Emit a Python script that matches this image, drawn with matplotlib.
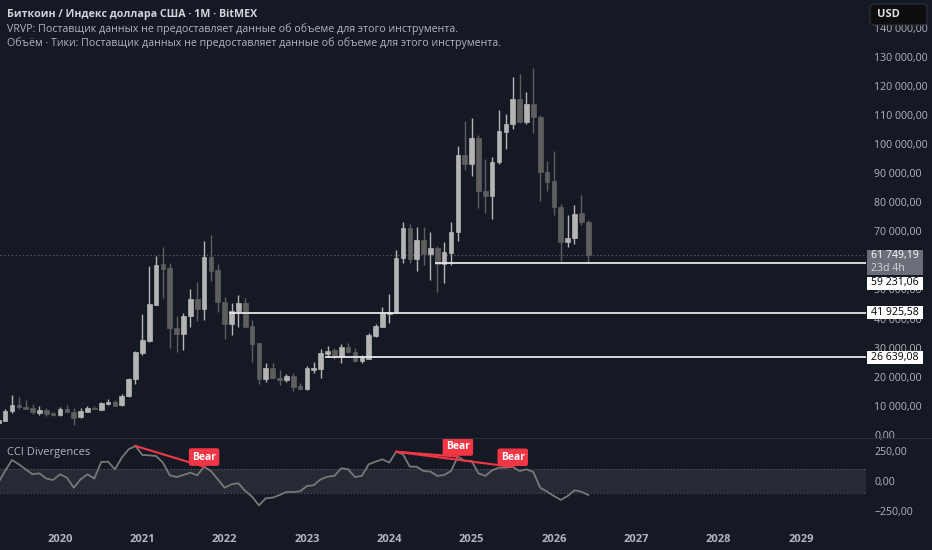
import matplotlib

matplotlib.use("Agg")

import matplotlib.pyplot as plt
import numpy as np
from matplotlib.patches import FancyBboxPatch, Rectangle

# month index: 0 = Jan 2020
months = np.arange(-9, 78)

opens = [4100, 4950, 8250, 10300, 9720, 9170, 7450, 8590, 7450, 6770,
         8830, 8020, 6080, 8020, 9170, 8700, 10540, 11230, 10300, 13400,
         19240, 28280, 32400, 44770, 58760, 57380, 36870, 34600, 41000, 46730,
         43290, 61160, 56700, 45800, 38140, 42710, 45240, 37450, 31500, 19240,
         22910, 19700, 18900, 20270, 16840, 15910, 22330, 22680, 27830, 29200,
         26900, 30130, 28620, 25430, 26220, 34020, 37210, 41580, 42020, 60710,
         71020, 60360, 67000, 62090, 64360, 58650, 62640, 69650, 96210, 93000,
         102150, 83840, 82230, 93700, 104210, 106760, 115450, 107650, 113730, 109150,
         90200, 87270, 78440, 66420, 67800, 76180, 73290]
highs = [5600, 8830, 13740, 12950, 12000, 10650, 9960, 9170, 7800, 9600,
         10300, 9170, 9200, 10000, 10100, 11300, 12370, 12000, 14000, 19600,
         29000, 41580, 58070, 61500, 64500, 59200, 41000, 41800, 50170, 52570,
         66660, 68720, 58760, 47520, 45470, 48100, 46970, 39510, 31700, 24630,
         24860, 22330, 21000, 21300, 17980, 23810, 24980, 29550, 30680, 29900,
         31270, 31500, 29800, 27500, 35000, 38000, 44000, 48450, 63570, 73290,
         72500, 71500, 71500, 69650, 65000, 66200, 73290, 99300, 108000, 108800,
         103000, 94730, 95400, 111670, 110300, 122900, 124040, 118000, 126000, 110000,
         94250, 97680, 79500, 75590, 79030, 82460, 74000]
lows = [4050, 4850, 7450, 8830, 8800, 7100, 6870, 6640, 6400, 6500,
        8200, 3440, 5900, 7800, 8800, 8600, 10200, 9900, 10000, 13000,
        17520, 27490, 32060, 44500, 46970, 29790, 28620, 29200, 37210, 39270,
        39600, 53020, 42370, 32880, 34250, 37000, 37700, 25190, 17400, 18320,
        19500, 17180, 18200, 15120, 15700, 15500, 21200, 19480, 26900, 26010,
        24630, 28300, 25000, 24900, 26000, 33800, 37000, 38380, 41800, 59000,
        59000, 56450, 58410, 53260, 49240, 52330, 58500, 66500, 91050, 89100,
        77900, 76380, 74110, 93000, 98170, 105000, 107300, 107000, 103660, 80400,
        83940, 75590, 59780, 64700, 65520, 72000, 59000]
closes = [5250, 8250, 10300, 9700, 8930, 7800, 8590, 7100, 6770, 8930,
          8020, 5730, 8250, 9170, 8830, 10890, 11340, 10080, 13500, 19350,
          28520, 32640, 45010, 58520, 57150, 36660, 34600, 41000, 46730, 43290,
          61160, 56450, 45800, 38140, 42710, 45240, 37210, 31270, 19240, 22910,
          19700, 18900, 20370, 16600, 15910, 22910, 23120, 28070, 28860, 26900,
          30340, 28620, 25530, 26690, 34360, 37450, 41810, 42160, 60700, 71020,
          60360, 67000, 62090, 64360, 58650, 62980, 69850, 96210, 93000, 102150,
          83840, 82230, 93920, 104290, 106720, 115450, 107650, 113730, 109150, 90200,
          87000, 78210, 66420, 67800, 75830, 73090, 61749.19]

cci = [-15, 85, 175, 139, 97, 56, 64, 20, 8, 56,
       28, -56, 14, 56, 20, 158, 161, 97, 194, 264,
       292, 217, 214, 208, 153, 47, 33, 50, 69, 47,
       119, 83, 14, -56, -28, -19, -83, -131, -203, -144,
       -139, -117, -92, -92, -86, -42, -35, 14, 36, 42,
       106, 97, 33, 42, 139, 161, 181, 153, 244, 222,
       119, 119, 83, 78, 42, 50, 83, 203, 167, 167,
       64, 42, 89, 111, 111, 117, 83, 97, 75, -56,
       -89, -125, -158, -125, -78, -89, -117]

# bearish divergences: (start month, end month)
divergences = [(11, 21), (49, 58), (49, 66)]

levels = [59231.06, 41925.58, 26639.08]
level_start = [55, 25, 39]

year_ticks = np.arange(0, 109, 12)
year_labels = ["2020", "2021", "2022", "2023", "2024", "2025", "2026", "2027", "2028", "2029"]
# 60 000 sits under the last-price tag, so it is not listed
price_ticks = [0, 10000, 20000, 30000, 40000, 50000, 70000, 80000, 90000,
               100000, 110000, 120000, 130000, 140000]
cci_ticks = [-250, 0, 250]

BG = "#151924"
TXT = "#b2b5be"
BULL = "#b4b4b4"
BEAR = "#5e5e5e"
RED = "#f23645"

plt.rcParams["font.family"] = ["Open Sans", "DejaVu Sans"]

W, H = 932, 550
fig = plt.figure(figsize=(W / 100, H / 100), dpi=100, facecolor=BG)


def fig_rect(x, y_top, w, h):
    return [x / W, 1 - (y_top + h) / H, w / W, h / H]


def ru_num(v):
    s = f"{v:,.2f}"
    return s.replace(",", " ").replace(".", ",")


ax = fig.add_axes(fig_rect(0, 0, 866, 438), facecolor=BG)
cax = fig.add_axes(fig_rect(0, 439, 866, 83), facecolor=BG)

xlim = (-8.75, 117.5)

# candles
opens_a = np.array(opens, float)
closes_a = np.array(closes, float)
up = closes_a >= opens_a
cols = np.where(up, BULL, BEAR)
ax.vlines(months, lows, highs, colors=cols, lw=1.0, zorder=2)
body_lo = np.minimum(opens_a, closes_a)
body_h = np.maximum(np.abs(closes_a - opens_a), 300)
ax.bar(months, body_h, bottom=body_lo, width=0.68, color=cols, edgecolor=cols, lw=0.5, zorder=3)

ax.axhline(closes[-1], color="#5d606b", lw=0.9, ls=(0, (1, 2)), zorder=1)
for lev, start in zip(levels, level_start):
    ax.hlines(lev, start - 0.4, xlim[1], color="#e6e6e6", lw=1.3, zorder=4)

ax.set_xlim(*xlim)
ax.set_ylim(-1030, 149470)
ax.yaxis.tick_right()
ax.set_yticks(price_ticks)
ax.set_yticklabels([ru_num(v) for v in price_ticks])
ax.tick_params(axis="y", length=0, pad=6, labelsize=7.6, labelcolor=TXT)
ax.set_xticks([])
for sp in ax.spines.values():
    sp.set_visible(False)

# CCI pane
cax.axhspan(-100, 100, color="#262a35", lw=0, zorder=0)
for yv in (-100, 100):
    cax.axhline(yv, color="#555963", lw=0.8, ls=(0, (1, 2)), zorder=1)
cax.plot(months, cci, color="#787878", lw=1.3, zorder=2)
cci_map = dict(zip(months.tolist(), cci))
for a, b in divergences:
    cax.plot([a, b], [cci_map[a], cci_map[b]], color=RED, lw=1.5, zorder=3)
    cax.annotate("Bear", xy=(b, cci_map[b]), xytext=(0, 3), textcoords="offset points",
                 ha="center", va="bottom", fontsize=7.5, fontweight="bold", color="white",
                 bbox=dict(boxstyle="round,pad=0.25,rounding_size=0.15", fc=RED, ec=RED), zorder=5)
cax.set_xlim(*xlim)
cax.set_ylim(-342, 350)
cax.yaxis.tick_right()
cax.set_yticks(cci_ticks)
cax.set_yticklabels(["\u2212250,00", "0,00", "250,00"])
cax.tick_params(axis="y", length=0, pad=6, labelsize=7.6, labelcolor=TXT)
cax.set_xticks(year_ticks)
cax.set_xticklabels(year_labels, fontweight="bold")
cax.tick_params(axis="x", length=0, pad=9, labelsize=8, labelcolor=TXT)
for sp in cax.spines.values():
    sp.set_visible(False)

fig.text(7 / W, 1 - 452 / H, "CCI Divergences", fontsize=8, color=TXT, va="center", ha="left")

# pane separator
fig.add_artist(Rectangle((0, 1 - 439 / H), 1, 1.2 / H, transform=fig.transFigure, color="#2a2e39", lw=0))

# right-axis price labels
fig.canvas.draw()


def y_pix(price):
    return H - ax.transData.transform((0, price))[1]


def tag(y_top, h, fc, lines, tcols):
    fig.add_artist(Rectangle(fig_rect(867, y_top, 56, h)[:2], 56 / W, h / H,
                             transform=fig.transFigure, color=fc, lw=0, zorder=6))
    n = len(lines)
    for i, (s, c) in enumerate(zip(lines, tcols)):
        yc = y_top + h * (i + 0.5) / n
        fig.text(871 / W, 1 - yc / H, s, fontsize=7.6, color=c, ha="left", va="center", zorder=7)


tag(249.5, 25.5, "#6b6e78", [ru_num(closes[-1]), "23d 4h"], ["white", "#d6d6d6"])
tag(276.5, 13, "white", [ru_num(levels[0])], ["black"])
for lev in levels[1:]:
    yp = y_pix(lev)
    tag(yp - 6.5, 13, "white", [ru_num(lev)], ["black"])

# USD button
bx = fig_rect(870, 4, 57, 21)
fig.add_artist(FancyBboxPatch((bx[0], bx[1]), bx[2], bx[3], boxstyle="round,pad=0,rounding_size=0.006",
                              transform=fig.transFigure, fc="#0e0e0e", ec="#2e323c", lw=0.8, zorder=6))
fig.text(877 / W, 1 - 14.5 / H, "USD", fontsize=8, fontweight="bold", color="#e0e0e0",
         ha="left", va="center", zorder=7)

# header
fig.text(7 / W, 1 - 15 / H, "Биткоин / Индекс доллара США · 1M · BitMEX", fontsize=7.7,
         fontweight="bold", color="#d1d4dc", ha="left", va="center")
fig.text(7 / W, 1 - 29 / H, "VRVP: Поставщик данных не предоставляет данные об объеме для этого инструмента.",
         fontsize=7.7, color=TXT, ha="left", va="center")
fig.text(7 / W, 1 - 43 / H, "Объём · Тики: Поставщик данных не предоставляет данные об объеме для этого инструмента.",
         fontsize=7.7, color=TXT, ha="left", va="center")

fig.savefig("out.png", dpi=100, facecolor=BG)
